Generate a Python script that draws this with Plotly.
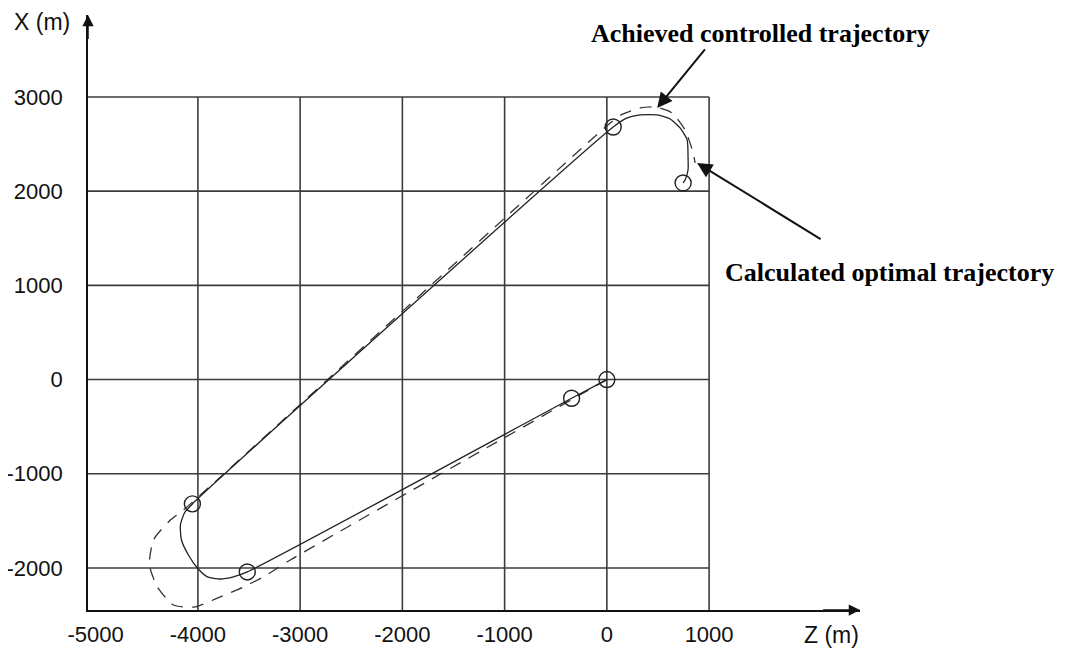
import plotly.graph_objects as go

# Achieved controlled trajectory (solid)
ach_z = [0, -345, -3517, -3653, -3780, -3907, -4005, -4093, -4161, -4171, -4132, -4054,
         62, 199, 325, 491, 619, 716, 785, 794, 794, 765, 746]
ach_x = [0, -198, -2042, -2095, -2117, -2095, -2000, -1862, -1703, -1544, -1416, -1320,
         2681, 2777, 2809, 2809, 2766, 2671, 2544, 2363, 2225, 2119, 2087]

# Calculated optimal trajectory (dashed)
calc_z = [0, -3096, -3360, -3555, -3809, -4024, -4239, -4396, -4474, -4435, -4269, -4142,
          33, 145, 325, 472, 638, 765, 844, 863]
calc_x = [0, -1915, -2095, -2202, -2319, -2413, -2393, -2202, -1968, -1703, -1490, -1385,
          2724, 2813, 2883, 2894, 2830, 2650, 2405, 2300]

# Waypoint circles
circ_z = [0, -345, -3517, -4054, 62, 746]
circ_x = [0, -198, -2042, -1320, 2681, 2087]

z_ticks = [-5000, -4000, -3000, -2000, -1000, 0, 1000]
x_ticks = [-2000, -1000, 0, 1000, 2000, 3000]
z_lo, z_hi = -5075, 2476      # axis extent (with arrow)
x_lo, x_hi = -2446, 3870
grid_z_max, grid_x_max = 1000, 3000

fig = go.Figure()

grid_color = "#3c3c3c"
shapes = []
for zv in z_ticks[1:]:
    shapes.append(dict(type="line", xref="x", yref="y", x0=zv, x1=zv, y0=x_lo, y1=grid_x_max,
                       line=dict(color=grid_color, width=1.6), layer="below"))
for xv in x_ticks:
    shapes.append(dict(type="line", xref="x", yref="y", x0=z_lo, x1=grid_z_max, y0=xv, y1=xv,
                       line=dict(color=grid_color, width=1.6), layer="below"))

fig.add_trace(go.Scatter(x=calc_z, y=calc_x, mode="lines",
                         line=dict(color="#333333", width=1.3, dash="12px,9px", shape="spline", smoothing=0.6),
                         showlegend=False, hoverinfo="skip"))
fig.add_trace(go.Scatter(x=ach_z, y=ach_x, mode="lines",
                         line=dict(color="#222222", width=1.3, shape="spline", smoothing=0.6),
                         showlegend=False, hoverinfo="skip"))
fig.add_trace(go.Scatter(x=circ_z, y=circ_x, mode="markers",
                         marker=dict(symbol="circle-open", size=16, color="#222222", line=dict(width=1.4)),
                         showlegend=False, hoverinfo="skip"))

tick_font = dict(family="Liberation Sans, Arial, sans-serif", size=22, color="#111111")
title_font = dict(family="Liberation Sans, Arial, sans-serif", size=23, color="#111111")
ann_font = dict(family="Liberation Serif, Times New Roman, serif", size=26, color="#000000")

annotations = [
    # axis arrowheads
    dict(x=z_lo, y=x_hi, xref="x", yref="y", ax=z_lo, ay=3600, axref="x", ayref="y",
         text="", showarrow=True, arrowhead=2, arrowsize=1.5, arrowwidth=1.5, arrowcolor="#111"),
    dict(x=z_hi, y=x_lo, xref="x", yref="y", ax=2100, ay=x_lo, axref="x", ayref="y",
         text="", showarrow=True, arrowhead=2, arrowsize=1.5, arrowwidth=1.5, arrowcolor="#111"),
    # axis titles
    dict(x=42, y=22, xref="paper", yref="paper", text="X (m)", showarrow=False, font=title_font),
    dict(x=831, y=635, xref="paper", yref="paper", text="Z (m)", showarrow=False, font=title_font),
    # labels
    dict(x=760, y=33, xref="paper", yref="paper", text="<b>Achieved controlled trajectory</b>",
         showarrow=False, font=ann_font),
    dict(x=890, y=272, xref="paper", yref="paper", text="<b>Calculated optimal trajectory</b>",
         showarrow=False, font=ann_font),
    # pointer arrows
    dict(x=492, y=2883, xref="x", yref="y", ax=49, ay=-60, text="", showarrow=True,
         arrowhead=2, arrowsize=1.5, arrowwidth=2, arrowcolor="#111"),
    dict(x=883, y=2299, xref="x", yref="y", ax=125, ay=77, text="", showarrow=True,
         arrowhead=2, arrowsize=1.5, arrowwidth=2, arrowcolor="#111"),
]

# page body margin offset (px) and figure geometry
off = 8
W, H = 1069, 650
ml, mr, mt, mb = 88 - off, W - (860 - off), 15 - off, H - (610 - off)
pw, ph = W - ml - mr, H - mt - mb
for a in annotations:
    if a.get("xref") == "paper":
        a["x"] = (a["x"] - off - ml) / pw
        a["y"] = 1 - (a["y"] - off - mt) / ph
        a["xanchor"] = "center"
        a["yanchor"] = "middle"

fig.update_layout(
    width=W, height=H,
    margin=dict(l=ml, r=mr, t=mt, b=mb, autoexpand=False),
    paper_bgcolor="white", plot_bgcolor="white",
    shapes=shapes, annotations=annotations,
    xaxis=dict(range=[z_lo, z_hi], tickvals=z_ticks, ticktext=[str(v) for v in z_ticks],
               showgrid=False, zeroline=False, showline=True, linecolor="#111", linewidth=1.6,
               tickfont=tick_font, ticks="", ticklabelstandoff=4, automargin=False, fixedrange=True),
    yaxis=dict(range=[x_lo, x_hi], tickvals=x_ticks, ticktext=[str(v) for v in x_ticks],
               showgrid=False, zeroline=False, showline=True, linecolor="#111", linewidth=1.6,
               tickfont=tick_font, ticks="", ticklabelstandoff=19, automargin=False, fixedrange=True),
    showlegend=False,
)

fig.write_html("out.html")
